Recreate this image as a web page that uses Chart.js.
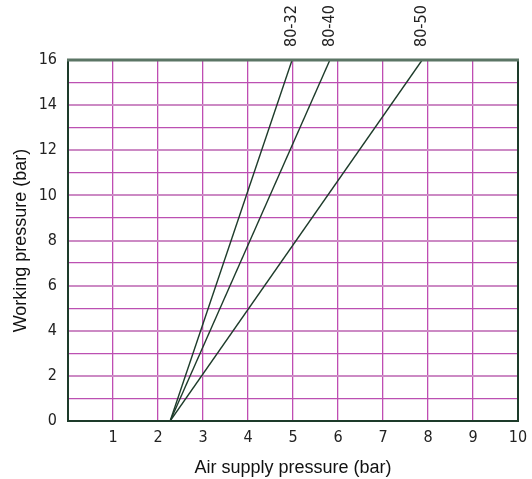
<!DOCTYPE html>
<html>
<head>
<meta charset="utf-8">
<script src="https://cdn.jsdelivr.net/npm/chart.js@4"></script>
<style>
  html, body { margin: 0; padding: 0; background: #fff; }
  #wrap { width: 532px; height: 479px; }
</style>
</head>
<body>
<div id="wrap"><canvas id="grafico" width="532" height="479"></canvas></div>
<script>
// valores
const seriesNames = ['80-32', '80-40', '80-50'];
const startX = [2.27, 2.27, 2.27];
const startY = [0, 0, 0];
const endX = [4.98, 5.82, 7.87];
const endY = [16, 16, 16];
const xTicks = [1, 2, 3, 4, 5, 6, 7, 8, 9, 10];
const yTicks = [0, 2, 4, 6, 8, 10, 12, 14, 16];

const lineColor = '#1d3b2a';
const tickFont = { family: "'Liberation Sans Narrow', 'DejaVu Sans Condensed', sans-serif", size: 16 };

let datasets = seriesNames.map((name, i) => ({
    label: name,
    data: [{ x: startX[i], y: startY[i] }, { x: endX[i], y: endY[i] }],
    borderColor: lineColor,
    borderWidth: 1.4,
    pointRadius: 0,
    showLine: true,
    fill: false
}));

// marco y etiquetas rotadas de cada serie
const extras = {
    id: 'extras',
    afterDatasetsDraw(chart) {
        const { ctx, chartArea: a, scales } = chart;
        ctx.save();
        ctx.strokeStyle = '#1d3b2a';
        ctx.lineWidth = 2;
        ctx.beginPath();
        ctx.moveTo(a.left, a.top); ctx.lineTo(a.left, a.bottom); ctx.lineTo(a.right, a.bottom); ctx.lineTo(a.right, a.top);
        ctx.stroke();
        ctx.strokeStyle = '#5b7565';
        ctx.lineWidth = 3;
        ctx.beginPath();
        ctx.moveTo(a.left - 1, a.top); ctx.lineTo(a.right + 1, a.top);
        ctx.stroke();

        ctx.fillStyle = '#222';
        ctx.font = "16px 'Liberation Sans Narrow', 'DejaVu Sans Condensed', sans-serif";
        ctx.textAlign = 'left';
        ctx.textBaseline = 'middle';
        seriesNames.forEach((name, i) => {
            const px = scales.x.getPixelForValue(endX[i]);
            const py = scales.y.getPixelForValue(endY[i]);
            ctx.save();
            ctx.translate(px, py - 13);
            ctx.rotate(-Math.PI / 2);
            ctx.fillText(name, 0, 0);
            ctx.restore();
        });
        ctx.restore();
    }
};

new Chart(document.getElementById('grafico'), {
    type: 'scatter',
    data: { datasets: datasets },
    options: {
        responsive: false,
        animation: false,
        layout: { padding: { top: 60, right: 14, left: 0, bottom: 0 } },
        plugins: { legend: { display: false }, tooltip: { enabled: false } },
        scales: {
            x: {
                type: 'linear',
                min: 0, max: 10,
                afterBuildTicks: (s) => { s.ticks = [0].concat(xTicks).map(v => ({ value: v })); },
                afterFit: (s) => { s.height = 58; s.paddingRight = 0; s.paddingLeft = 0; },
                ticks: {
                    color: '#222',
                    font: tickFont,
                    padding: 7,
                    maxRotation: 0,
                    callback: (v) => v === 0 ? '' : String(v)
                },
                grid: { color: '#bf4db3', lineWidth: 1.3, drawTicks: false },
                border: { display: false },
                title: {
                    display: true,
                    text: 'Air supply pressure (bar)',
                    color: '#111',
                    font: { family: "'Liberation Sans', Arial, sans-serif", size: 18 },
                    padding: { top: 4, bottom: 0 }
                }
            },
            y: {
                type: 'linear',
                min: 0, max: 16,
                afterBuildTicks: (s) => {
                    let t = [];
                    for (let v = 0; v <= 16; v++) t.push({ value: v });
                    s.ticks = t;
                },
                afterFit: (s) => { s.width = 68; },
                ticks: {
                    color: '#222',
                    font: tickFont,
                    padding: 11,
                    callback: (v) => yTicks.includes(v) ? String(v) : ''
                },
                grid: {
                    drawTicks: false,
                    color: (c) => c.tick && c.tick.value % 2 === 0 ? '#cc8ac4' : '#bc50b2',
                    lineWidth: (c) => c.tick && c.tick.value % 2 === 0 ? 2 : 1.3
                },
                border: { display: false },
                title: {
                    display: true,
                    text: 'Working pressure (bar)',
                    color: '#111',
                    font: { family: "'Liberation Sans', Arial, sans-serif", size: 18 },
                    padding: { top: 10, bottom: 4 }
                }
            }
        }
    },
    plugins: [extras]
});
</script>
</body>
</html>
